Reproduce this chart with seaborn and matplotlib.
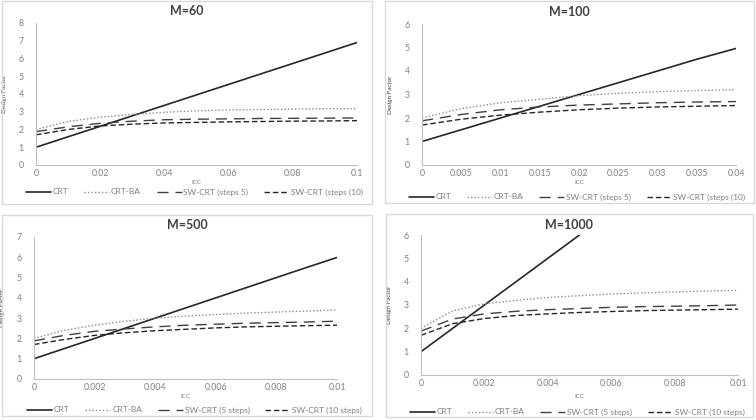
import numpy as np
import pandas as pd
import matplotlib
matplotlib.use("Agg")
import matplotlib.pyplot as plt
import seaborn as sns
from matplotlib.lines import Line2D
from matplotlib.patches import Rectangle

sns.set_style("white")
plt.rcParams["font.family"] = ["Lato", "DejaVu Sans"]

# values
icc_60 = [0, 0.01, 0.02, 0.03, 0.04, 0.05, 0.06, 0.07, 0.08, 0.09, 0.1]
crt_60 = [1.0, 1.59, 2.18, 2.77, 3.36, 3.95, 4.54, 5.13, 5.72, 6.31, 6.9]
ba_60 = [2.0, 2.45, 2.7, 2.85, 2.97, 3.05, 3.1, 3.12, 3.15, 3.17, 3.18]
sw5_60 = [1.88, 2.15, 2.35, 2.47, 2.55, 2.58, 2.6, 2.62, 2.63, 2.64, 2.65]
sw10_60 = [1.7, 2.0, 2.2, 2.3, 2.37, 2.4, 2.43, 2.45, 2.47, 2.48, 2.5]

icc_100 = [0, 0.005, 0.01, 0.015, 0.02, 0.025, 0.03, 0.035, 0.04]
crt_100 = [1.0, 1.5, 2.0, 2.5, 3.0, 3.5, 4.0, 4.5, 4.96]
ba_100 = [2.0, 2.4, 2.65, 2.8, 2.95, 3.05, 3.12, 3.17, 3.2]
sw5_100 = [1.88, 2.15, 2.35, 2.47, 2.55, 2.6, 2.65, 2.68, 2.7]
sw10_100 = [1.7, 1.95, 2.12, 2.25, 2.35, 2.42, 2.47, 2.5, 2.53]

icc_500 = [0, 0.001, 0.002, 0.003, 0.004, 0.005, 0.006, 0.007, 0.008, 0.009, 0.01]
crt_500 = [1.0, 1.5, 2.0, 2.5, 3.0, 3.5, 4.0, 4.5, 5.0, 5.5, 5.99]
ba_500 = [2.0, 2.4, 2.65, 2.85, 3.0, 3.1, 3.18, 3.25, 3.3, 3.35, 3.4]
sw5_500 = [1.88, 2.15, 2.35, 2.47, 2.57, 2.65, 2.7, 2.75, 2.78, 2.81, 2.85]
sw10_500 = [1.7, 1.95, 2.15, 2.28, 2.38, 2.45, 2.52, 2.57, 2.6, 2.63, 2.65]

icc_1000 = [0, 0.001, 0.002, 0.003, 0.004, 0.005, 0.006, 0.007, 0.008, 0.009, 0.01]
crt_1000 = [1.0, 2.0, 3.0, 4.0, 5.0, 6.0, np.nan, np.nan, np.nan, np.nan, np.nan]
ba_1000 = [2.0, 2.75, 3.05, 3.2, 3.32, 3.4, 3.47, 3.52, 3.56, 3.6, 3.63]
sw5_1000 = [1.88, 2.4, 2.62, 2.73, 2.8, 2.85, 2.9, 2.93, 2.95, 2.97, 3.0]
sw10_1000 = [1.7, 2.2, 2.42, 2.55, 2.62, 2.68, 2.72, 2.76, 2.78, 2.8, 2.82]

labels_a = ["CRT", "CRT-BA", "SW-CRT (steps 5)", "SW-CRT (steps (10)"]
labels_b = ["CRT", "CRT-BA", "SW-CRT (5 steps)", "SW-CRT (10 steps)"]

styles = [
    dict(color="#262626", lw=1.2, ls="-"),
    dict(color="#8c8c8c", lw=1.0, ls=(0, (1, 1.5))),
    dict(color="#404040", lw=1.0, ls=(0, (8, 5))),
    dict(color="#262626", lw=1.0, ls=(0, (4, 2))),
]

TXT = "#7f7f7f"
W, H = 756, 420

fig = plt.figure(figsize=(7.56, 4.2), dpi=100)


def px_axes(l, r, t, b):
    return fig.add_axes([l / W, 1 - b / H, (r - l) / W, (b - t) / H])


def border(l, r, t, b):
    fig.patches.append(Rectangle((l / W, 1 - b / H), (r - l) / W, (b - t) / H,
                                 transform=fig.transFigure, fill=False,
                                 ec="#d9d9d9", lw=1.0))


panels = [
    dict(title="M=60", x=icc_60, ys=[crt_60, ba_60, sw5_60, sw10_60], labels=labels_a,
         ymax=8, xticks=icc_60[::2],
         ax=(36, 357, 23, 165), box=(2, 372, 1, 204), ty=11, xly=183, legy=192),
    dict(title="M=100", x=icc_100, ys=[crt_100, ba_100, sw5_100, sw10_100], labels=labels_a,
         ymax=6, xticks=icc_100,
         ax=(422, 736, 24, 165), box=(385, 754, 1, 203), ty=12, xly=183, legy=197),
    dict(title="M=500", x=icc_500, ys=[crt_500, ba_500, sw5_500, sw10_500], labels=labels_b,
         ymax=7, xticks=icc_500[::2],
         ax=(34, 337, 237, 379), box=(2, 372, 215, 416), ty=225, xly=396, legy=410),
    dict(title="M=1000", x=icc_1000, ys=[crt_1000, ba_1000, sw5_1000, sw10_1000], labels=labels_b,
         ymax=6, xticks=icc_1000[::2],
         ax=(421, 738, 235, 375), box=(386, 753, 214, 417), ty=225, xly=397, legy=412),
]

for p in panels:
    border(*p["box"])
    ax = px_axes(*p["ax"])
    for y, lab, st in zip(p["ys"], p["labels"], styles):
        df = pd.DataFrame({"icc": p["x"], "df": y})
        sns.lineplot(data=df, x="icc", y="df", ax=ax, color=st["color"],
                     linewidth=st["lw"], linestyle=st["ls"], legend=False)
    ax.set_xlim(0, p["x"][-1])
    ax.set_ylim(0, p["ymax"])
    ax.set_xticks(p["xticks"])
    ax.set_xticklabels([f"{v:g}" for v in p["xticks"]])
    ax.set_yticks(range(0, p["ymax"] + 1))
    ax.tick_params(axis="both", labelsize=6.3, labelcolor=TXT, length=3, width=0.6,
                   color="#bfbfbf", pad=6)
    ax.tick_params(axis="x", length=2, direction="in", pad=3)
    for s in ["top", "right"]:
        ax.spines[s].set_visible(False)
    for s in ["left", "bottom"]:
        ax.spines[s].set_color("#bfbfbf")
        ax.spines[s].set_linewidth(0.8)
    ax.set_xlabel("")
    ax.set_ylabel("Design Factor", fontsize=4.5, color="#404040", labelpad=8)

    l, r, t, b = p["ax"]
    bl, br = p["box"][0], p["box"][1]
    fig.text((bl + br) / 2 / W, 1 - p["ty"] / H, p["title"], ha="center", va="center",
             fontsize=9, fontweight="bold", color="#404040")
    fig.text((l + r) / 2 / W, 1 - p["xly"] / H, "ICC", ha="center", va="center",
             fontsize=4.5, color=TXT)
    handles = [Line2D([], [], color=st["color"], lw=st["lw"], ls=st["ls"]) for st in styles]
    fig.legend(handles, p["labels"], loc="center",
               bbox_to_anchor=((bl + br) / 2 / W + 0.01, 1 - p["legy"] / H),
               ncol=4, frameon=False, fontsize=6, labelcolor=TXT,
               handlelength=3.0, handletextpad=0.2, columnspacing=1.9,
               borderaxespad=0, borderpad=0)

fig.savefig("out.png", dpi=100)
